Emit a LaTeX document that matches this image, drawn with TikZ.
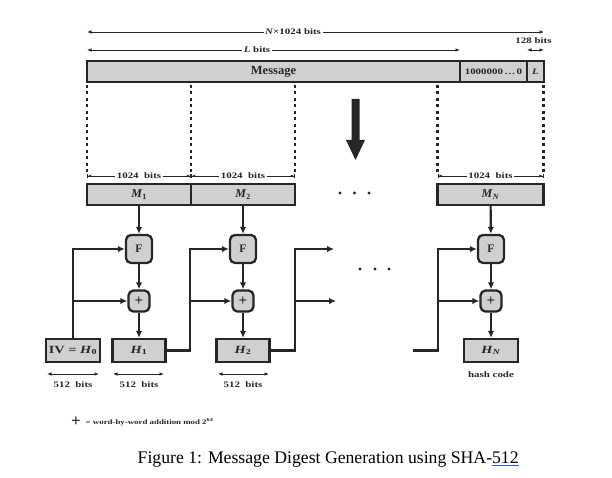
\documentclass[tikz,border=0pt]{standalone}
\usepackage{fontspec}
\setmainfont{Liberation Serif}
\newfontfamily\widefont[FakeStretch=1.3]{Liberation Serif}
\usetikzlibrary{arrows.meta}
\definecolor{blockgray}{RGB}{208,208,208}
\definecolor{inkgray}{RGB}{38,38,38}
\definecolor{spellblue}{RGB}{45,95,210}
\newcommand{\sized}[1]{\fontsize{#1}{#1}\selectfont}
\newcommand{\spellmark}[1]{\setbox0\hbox{#1}\rlap{\textcolor{spellblue}{\rule[-3pt]{\wd0}{0.9pt}}}\box0}

\begin{document}
\begin{tikzpicture}[x=1pt, y=-1pt,
    every node/.style={font=\widefont\bfseries\sized{8.4}, text=inkgray, inner sep=1.5pt},
    block/.style={draw=inkgray, fill=blockgray, line width=2.3pt, inner sep=0pt, minimum height=21pt},
    flow/.style={draw=inkgray, line width=2.2pt, -{Latex[length=7pt,width=6.5pt]}},
    span/.style={draw=inkgray, line width=0.7pt, {Latex[length=4.5pt,width=3.5pt]}-{Latex[length=4.5pt,width=3.5pt]}},
    barspan/.style={draw=inkgray, line width=0.7pt, {Bar[width=4pt]Latex[length=3.5pt,width=3pt]}-{Latex[length=3.5pt,width=3pt]Bar[width=4pt]}},
    guide/.style={draw=inkgray, line width=2.6pt, dash pattern=on 3pt off 3.5pt}]
    \useasboundingbox (0,0) rectangle (612,478);

    % padded message
    \node[block, minimum width=373pt, font=\bfseries\sized{12.5}] (msg) at (273.5,71.5) {Message};
    \node[block, minimum width=67pt] (pad) at (493.5,71.5) {1000000\,\ldots\,0};
    \node[block, minimum width=17pt] (len) at (535.5,71.5) {\textit{L}};

    \draw[span] (87,32) -- (544,32);
    \node[fill=white] (total) at (293,32) {\textit{N}×1024 bits};
    \draw[span] (87,50) -- (460,50);
    \node[fill=white] (lbits) at (257,50) {\textit{L} bits};
    \draw[span] (527,50) -- (544,50);
    \node (lenbits) at (533.5,41) {128 bits};

    \foreach \x in {87,191,295,437.5,543.5}
        \draw[guide] (\x,85) -- (\x,173);
    \fill[inkgray] (351.5,99) -- (359.5,99) -- (359.5,140) -- (365,140) -- (355.5,160)
        -- (346,140) -- (351.5,140) -- cycle;

    % blocks
    \node[block, minimum width=104pt, font=\bfseries\sized{12}] (m1) at (139,194.5) {\textit{M}\textsubscript{1}};
    \node[block, minimum width=104pt, font=\bfseries\sized{12}] (m2) at (243,194.5) {\textit{M}\textsubscript{2}};
    \node[block, minimum width=106pt, font=\bfseries\sized{12}] (mN) at (490.5,194.5) {\textit{M}\textsubscript{\textit{N}}};
    \draw[barspan] (87,176) -- node[fill=white] {1024\ \ bits} (191,176);
    \draw[barspan] (191,176) -- node[fill=white] {1024\ \ bits} (295,176);
    \draw[barspan] (437.5,176) -- node[fill=white] {1024\ \ bits} (543.5,176);
    \foreach \x in {340,354.5,369}
        \fill[inkgray] (\x,193) circle (1.7pt);

    % compression chain
    \node[block, minimum width=54pt, minimum height=23pt, font=\widefont\bfseries\sized{11}] (h0) at (73,350.5) {IV = \textit{H}\textsubscript{0}};
    \node[block, minimum width=53pt, minimum height=23pt, font=\widefont\bfseries\sized{11}] (h1) at (139,350.5) {\textit{H}\textsubscript{1}};
    \node[block, minimum width=53pt, minimum height=23pt, font=\widefont\bfseries\sized{11}] (h2) at (243,350.5) {\textit{H}\textsubscript{2}};
    \node[block, minimum width=54pt, minimum height=23pt, font=\widefont\bfseries\sized{11}] (hN) at (491,350.5) {\textit{H}\textsubscript{\textit{N}}};
    \foreach \i/\x in {1/139,2/243,N/491} {
        \node[block, rounded corners=5pt, minimum width=26pt, minimum height=28pt,
            font=\bfseries\sized{11.5}] (f\i) at (\x,249) {F};
        \node[block, rounded corners=5pt, minimum width=21pt, minimum height=21pt,
            font=\bfseries\sized{15}] (p\i) at (\x,301) {+};
        \draw[flow] (m\i) -- (f\i);
        \draw[flow] (f\i) -- (p\i);
        \draw[flow] (p\i) -- (h\i);
    }

    \coordinate (j1) at (190,350.5);
    \coordinate (j2) at (295,350.5);
    \coordinate (jN) at (438,350.5);
    \coordinate (inN) at (413,350.5);
    \coordinate (outf) at (334,249);
    \coordinate (outp) at (336,301);
    \draw[flow] (h0.north) |- (f1.west);
    \draw[flow] (h0.north |- p1) -- (p1.west);
    \draw[flow] (h1.east) -- (j1) |- (f2.west);
    \draw[flow] (j1 |- p2) -- (p2.west);
    \draw[flow] (h2.east) -- (j2) |- (outf);
    \draw[flow] (j2 |- outp) -- (outp);
    \draw[flow] (inN) -- (jN) |- (fN.west);
    \draw[flow] (jN |- pN) -- (pN.west);
    \foreach \x in {360,375,389}
        \fill[inkgray] (\x,269) circle (1.7pt);

    % sizes
    \draw[span] (47,374) -- (99,374);
    \node (s0) at (73,385) {512\ \ bits};
    \draw[span] (113,374) -- (164,374);
    \node (s1) at (139,385) {512\ \ bits};
    \draw[span] (218,374) -- (269,374);
    \node (s2) at (243,385) {512\ \ bits};
    \node (hash) at (491,375) {hash code};

    \node[font=\bfseries\sized{17}] (plus) at (76,421.5) {+};
    \node[anchor=west, font=\widefont\bfseries\sized{6.8}] (legend) at (84,422) {= word-by-word addition mod 2\textsuperscript{64}};

    \node[anchor=base west, text=black, font=\normalfont\sized{17.7}] (caption) at (136,463)
        {Figure 1: Message Digest Generation using SHA-\spellmark{512}};
\end{tikzpicture}
\end{document}
